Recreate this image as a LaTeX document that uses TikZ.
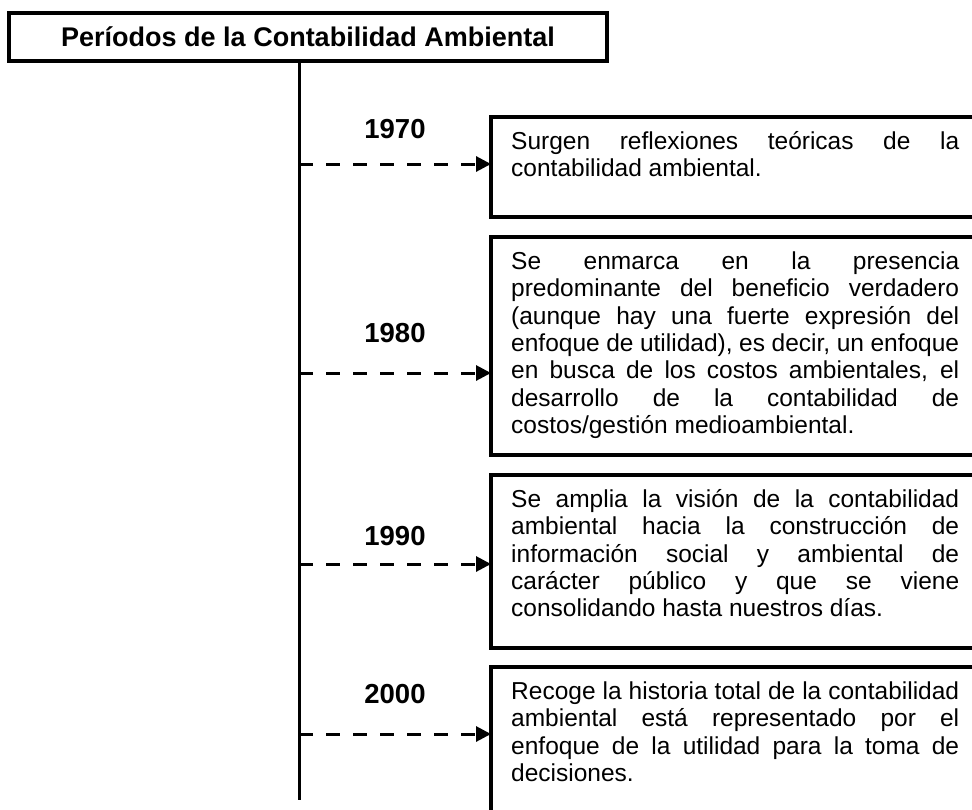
\documentclass[tikz,border=0pt]{standalone}
\usepackage{fontspec}
\setmainfont{Liberation Sans}
\usetikzlibrary{arrows.meta}
\usetikzlibrary{calc}

\begin{document}
\begin{tikzpicture}[x=1pt, y=-1pt,
    titlebox/.style = {draw, line width=3.5pt, minimum width=598pt, minimum height=48pt,
      inner sep=0pt, outer sep=0pt, font=\fontsize{27}{30}\selectfont\bfseries},
    yearlabel/.style = {font=\fontsize{27.5}{30}\selectfont\bfseries},
    infobox/.style = {draw, line width=4pt, anchor=north west, minimum width=560pt,
      inner sep=0pt, outer sep=0pt},
    infotext/.style = {anchor=base west, text width=448pt, align=justify, inner sep=0pt,
      font={\fontsize{24.5}{27.3}\selectfont\tolerance=10000\relax\hbadness=10000\relax\hyphenpenalty=10000\relax}},
    timeline/.style = {line width=3pt},
    yeararrow/.style = {line width=3pt, dash pattern=on 14pt off 13pt,
      -{Triangle[length=15pt, width=15pt]}}]
            \useasboundingbox (0, 0) rectangle (972, 809);
            \clip (0, 0) rectangle (972, 809);
            % title and time line
            \node [titlebox] (title) at (308, 37) {Períodos de la Contabilidad Ambiental};
            \coordinate (axtop) at (299, 61);
            \coordinate (axend) at (299, 800);
            \draw [timeline] (axtop) -- (axend);
            % boxes
            \node [infobox, minimum height=100pt] (box1) at (491, 117) {};
            \node [infobox, minimum height=218pt] (box2) at (491, 237) {};
            \node [infobox, minimum height=173pt] (box3) at (491, 475) {};
            \node [infobox, minimum height=200pt] (box4) at (491, 667) {};
            \node [infotext] (text1) at ($(box1.north west) + (20, 32.5)$) {Surgen reflexiones teóricas de la\linebreak contabilidad ambiental.};
            \node [infotext] (text2) at ($(box2.north west) + (20, 32.5)$) {Se enmarca en la presencia\linebreak predominante del beneficio verdadero\linebreak (aunque hay una fuerte expresión del\linebreak enfoque de utilidad), es decir, un enfoque\linebreak en busca de los costos ambientales, el\linebreak desarrollo de la contabilidad de\linebreak costos/gestión medioambiental.};
            \node [infotext] (text3) at ($(box3.north west) + (20, 32.5)$) {Se amplia la visión de la contabilidad\linebreak ambiental hacia la construcción de\linebreak información social y ambiental de\linebreak carácter público y que se viene\linebreak consolidando hasta nuestros días.};
            \node [infotext] (text4) at ($(box4.north west) + (20, 32.5)$) {Recoge la historia total de la contabilidad\linebreak ambiental está representado por el\linebreak enfoque de la utilidad para la toma de\linebreak decisiones.};
            % years and arrows
            \node [yearlabel] (y1970) at (395, 129) {1970};
            \node [yearlabel] (y1980) at (395, 333) {1980};
            \node [yearlabel] (y1990) at (395, 536) {1990};
            \node [yearlabel] (y2000) at (395, 694) {2000};
            \coordinate (a1) at (299, 164);
            \coordinate (a2) at (299, 373);
            \coordinate (a3) at (299, 564);
            \coordinate (a4) at (299, 734);
            \draw [yeararrow] (a1) -- (a1 -| box1.west);
            \draw [yeararrow] (a2) -- (a2 -| box2.west);
            \draw [yeararrow] (a3) -- (a3 -| box3.west);
            \draw [yeararrow] (a4) -- (a4 -| box4.west);
        \end{tikzpicture}
\end{document}
